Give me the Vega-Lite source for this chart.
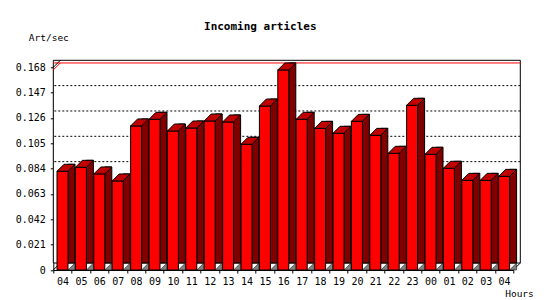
{
  "$schema": "https://vega.github.io/schema/vega-lite/v6.json",
  "width": 460,
  "height": 202.7,
  "autosize": {"type": "none"},
  "padding": {"left": 53.3, "top": 67.3, "right": 36.7, "bottom": 30},
  "background": "white",
  "config": {"view": {"stroke": null}, "font": "DejaVu Sans Mono"},
  "title": {
    "text": "Incoming articles",
    "font": "DejaVu Sans Mono",
    "fontSize": 11,
    "fontWeight": "bold",
    "color": "black",
    "frame": "group",
    "anchor": "middle",
    "dx": -23,
    "dy": 12,
    "offset": 3,
    "baseline": "alphabetic"
  },
  "resolve": {"axis": {"x": "independent", "y": "independent"}},
  "datasets": {
    "hourly": [
      {"slot": "1-04", "rate": 0.0818},
      {"slot": "1-05", "rate": 0.0851},
      {"slot": "1-06", "rate": 0.0796},
      {"slot": "1-07", "rate": 0.0738},
      {"slot": "1-08", "rate": 0.1194},
      {"slot": "1-09", "rate": 0.1249},
      {"slot": "1-10", "rate": 0.1152},
      {"slot": "1-11", "rate": 0.1177},
      {"slot": "1-12", "rate": 0.1235},
      {"slot": "1-13", "rate": 0.1227},
      {"slot": "1-14", "rate": 0.1042},
      {"slot": "1-15", "rate": 0.1359},
      {"slot": "1-16", "rate": 0.1658},
      {"slot": "1-17", "rate": 0.1249},
      {"slot": "1-18", "rate": 0.1174},
      {"slot": "1-19", "rate": 0.1133},
      {"slot": "1-20", "rate": 0.1232},
      {"slot": "1-21", "rate": 0.1116},
      {"slot": "1-22", "rate": 0.0967},
      {"slot": "1-23", "rate": 0.1365},
      {"slot": "2-00", "rate": 0.0959},
      {"slot": "2-01", "rate": 0.0843},
      {"slot": "2-02", "rate": 0.0743},
      {"slot": "2-03", "rate": 0.0743},
      {"slot": "2-04", "rate": 0.0776}
    ],
    "grid": [
      {"level": 0.084},
      {"level": 0.105},
      {"level": 0.126},
      {"level": 0.147}
    ],
    "one": [{}]
  },
  "data": {"name": "hourly"},
  "layer": [
    {
      "data": {"name": "one"},
      "mark": {"type": "rect", "fill": "white", "stroke": "black", "strokeWidth": 1, "xOffset": 7, "x2Offset": 7, "yOffset": -7, "y2Offset": -7},
      "encoding": {
        "y": {"datum": 0.168, "type": "quantitative", "scale": {"domain": [0, 0.168], "nice": false}, "axis": null},
        "y2": {"datum": 0}
      }
    },
    {
      "data": {"name": "grid"},
      "mark": {"type": "rule", "stroke": "black", "strokeWidth": 1, "strokeDash": [2, 2], "xOffset": 7, "x2Offset": 7, "yOffset": -7, "y2Offset": -7},
      "encoding": {
        "y": {"field": "level", "type": "quantitative", "scale": {"domain": [0, 0.168], "nice": false}, "axis": null}
      }
    },
    {
      "transform": [{"aggregate": [{"op": "max", "field": "rate", "as": "maxrate"}]}],
      "mark": {"type": "rule", "stroke": "red", "strokeWidth": 1, "xOffset": 7, "x2Offset": 7, "yOffset": -7, "y2Offset": -7},
      "encoding": {
        "y": {"field": "maxrate", "type": "quantitative", "scale": {"domain": [0, 0.168], "nice": false}, "axis": null}
      }
    },
    {
      "transform": [
        {"joinaggregate": [{"op": "max", "field": "rate", "as": "maxrate"}]},
        {"window": [{"op": "row_number", "as": "rn"}], "sort": [{"field": "slot", "order": "ascending"}]},
        {"filter": "datum.rn == 1"}
      ],
      "mark": {"type": "point", "shape": "M0,0L0.7,-0.7", "size": 400, "filled": false, "stroke": "red", "strokeWidth": 1, "opacity": 1},
      "encoding": {
        "x": {"field": "slot", "type": "ordinal", "bandPosition": 0, "scale": {"paddingInner": 0, "paddingOuter": 0}, "axis": null},
        "y": {"field": "maxrate", "type": "quantitative", "scale": {"domain": [0, 0.168], "nice": false}, "axis": null}
      }
    },
    {
      "transform": [
        {"window": [{"op": "row_number", "as": "rn"}], "sort": [{"field": "slot", "order": "ascending"}]},
        {"filter": "datum.rn == 1"}
      ],
      "mark": {"type": "point", "shape": "M0,0L0.7,-0.7", "size": 400, "filled": false, "stroke": "black", "strokeWidth": 1, "opacity": 1},
      "encoding": {
        "x": {"field": "slot", "type": "ordinal", "bandPosition": 0, "scale": {"paddingInner": 0, "paddingOuter": 0}, "axis": null},
        "y": {"datum": 0.168, "type": "quantitative", "scale": {"domain": [0, 0.168], "nice": false}, "axis": null}
      }
    },
    {
      "transform": [
        {"window": [{"op": "row_number", "as": "rn"}], "sort": [{"field": "slot", "order": "ascending"}]},
        {"filter": "datum.rn == 1"}
      ],
      "mark": {"type": "point", "shape": "M0,0L0.7,-0.7", "size": 400, "filled": false, "stroke": "black", "strokeWidth": 1, "opacity": 1},
      "encoding": {
        "x": {"field": "slot", "type": "ordinal", "bandPosition": 0, "scale": {"paddingInner": 0, "paddingOuter": 0}, "axis": null},
        "y": {"datum": 0, "type": "quantitative", "scale": {"domain": [0, 0.168], "nice": false}, "axis": null}
      }
    },
    {
      "transform": [
        {"window": [{"op": "row_number", "as": "rn"}], "sort": [{"field": "slot", "order": "descending"}]},
        {"filter": "datum.rn == 1"}
      ],
      "mark": {"type": "point", "shape": "M0,0L0.7,-0.7", "size": 400, "filled": false, "stroke": "black", "strokeWidth": 1, "opacity": 1},
      "encoding": {
        "x": {"field": "slot", "type": "ordinal", "bandPosition": 1, "scale": {"paddingInner": 0, "paddingOuter": 0}, "axis": null},
        "y": {"datum": 0, "type": "quantitative", "scale": {"domain": [0, 0.168], "nice": false}, "axis": null}
      }
    },
    {
      "mark": {"type": "bar", "width": 7, "xOffset": 9, "yOffset": -7, "fill": "#800000", "stroke": "black", "strokeWidth": 1},
      "encoding": {
        "x": {"field": "slot", "type": "ordinal", "scale": {"paddingInner": 0, "paddingOuter": 0}, "axis": null},
        "y": {"field": "rate", "type": "quantitative", "scale": {"domain": [0, 0.168], "nice": false}, "axis": null}
      }
    },
    {
      "mark": {"type": "point", "shape": "M0.55,0L1.25,-0.7L1.25,0Z", "size": 400, "filled": true, "fill": "#808080", "stroke": "black", "strokeWidth": 0.5, "opacity": 1},
      "encoding": {
        "x": {"field": "slot", "type": "ordinal", "scale": {"paddingInner": 0, "paddingOuter": 0}, "axis": null},
        "y": {"datum": 0, "type": "quantitative", "scale": {"domain": [0, 0.168], "nice": false}, "axis": null}
      }
    },
    {
      "mark": {"type": "bar", "width": 11, "fill": "#ff0000", "stroke": "black", "strokeWidth": 1},
      "encoding": {
        "x": {
          "field": "slot",
          "type": "ordinal",
          "scale": {"paddingInner": 0, "paddingOuter": 0},
          "axis": {
            "title": "Hours",
            "titleFont": "DejaVu Sans Mono",
            "titleFontSize": 9.5,
            "titleFontWeight": "normal",
            "titleColor": "black",
            "titleAlign": "right",
            "titleBaseline": "alphabetic",
            "titleX": 480,
            "titleY": 26,
            "labelExpr": "isString(datum.value) ? slice(datum.value, 2) : ''",
            "labelAngle": 0,
            "labelFont": "DejaVu Sans Mono",
            "labelFontSize": 10,
            "labelColor": "black",
            "labelPadding": 3.5,
            "tickBand": "extent",
            "tickSize": 3,
            "tickColor": "black",
            "domainColor": "black",
            "grid": false
          }
        },
        "y": {
          "field": "rate",
          "type": "quantitative",
          "scale": {"domain": [0, 0.168], "nice": false},
          "axis": {
            "title": "Art/sec",
            "titleFont": "DejaVu Sans Mono",
            "titleFontSize": 9.5,
            "titleFontWeight": "normal",
            "titleColor": "black",
            "titleAngle": 0,
            "titleAlign": "left",
            "titleBaseline": "alphabetic",
            "titleX": -25,
            "titleY": -27.3,
            "values": [0, 0.021, 0.042, 0.063, 0.084, 0.105, 0.126, 0.147, 0.168],
            "labelExpr": "datum.value == 0 ? '0' : format(datum.value, '.3f')",
            "labelFont": "DejaVu Sans Mono",
            "labelFontSize": 10,
            "labelColor": "black",
            "labelPadding": 5,
            "tickSize": 3,
            "tickColor": "black",
            "domainColor": "black",
            "grid": false
          }
        }
      }
    },
    {
      "mark": {"type": "point", "shape": "M-0.55,0L0.55,0L1.25,-0.7L0.15,-0.7Z", "size": 400, "filled": true, "fill": "#c00000", "stroke": "black", "strokeWidth": 1, "opacity": 1},
      "encoding": {
        "x": {"field": "slot", "type": "ordinal", "scale": {"paddingInner": 0, "paddingOuter": 0}, "axis": null},
        "y": {"field": "rate", "type": "quantitative", "scale": {"domain": [0, 0.168], "nice": false}, "axis": null}
      }
    }
  ]
}
